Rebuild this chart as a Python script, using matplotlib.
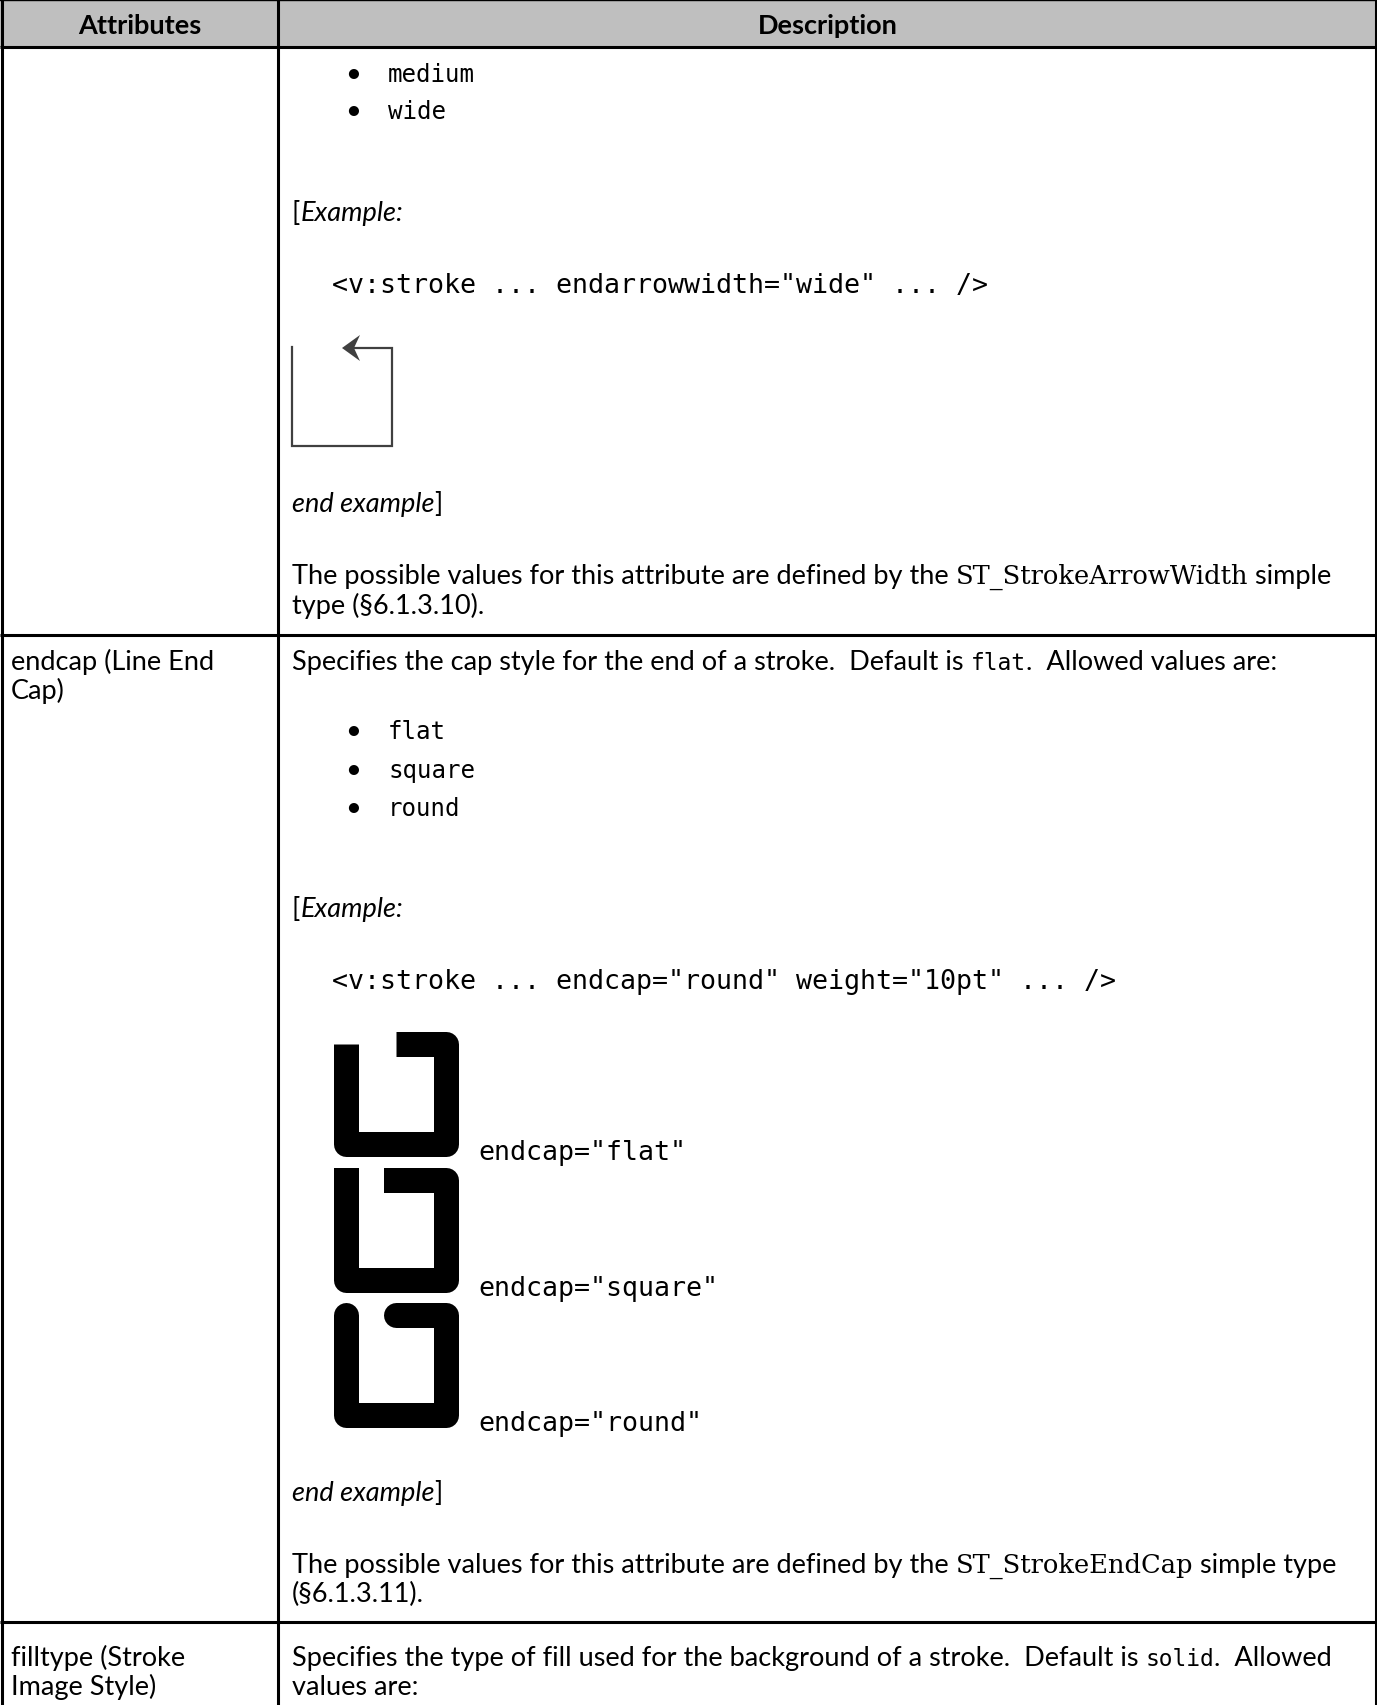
import matplotlib
matplotlib.use("Agg")
import matplotlib.pyplot as plt
from matplotlib.font_manager import FontProperties
from matplotlib.path import Path
from matplotlib.patches import PathPatch, Polygon, Rectangle

W, H = 1377, 1706

# table content
header = ["Attributes", "Description"]
arrow_widths = ["medium", "wide"]
cap_values = ["flat", "square", "round"]
cap_styles = {"flat": "butt", "square": "projecting", "round": "round"}
code_arrow = '<v:stroke ... endarrowwidth="wide" ... />'
code_cap = '<v:stroke ... endcap="round" weight="10pt" ... />'
attr_rows = [("endcap (Line End", "Cap)"), ("filltype (Stroke", "Image Style)")]

SANS = "Lato"
BODY = 19.5
STYLES = {
    "sans": dict(family=SANS, size=BODY),
    "ital": dict(family=SANS, size=BODY, style="italic"),
    "bold": dict(family=SANS, size=BODY, weight="bold"),
    "inl": dict(family="DejaVu Sans Mono", size=16.5),
    "mono": dict(family="DejaVu Sans Mono", size=17.4),
    "code": dict(family="DejaVu Sans Mono", size=19.2),
    "serif": dict(family="DejaVu Serif", size=18.5),
}

fig = plt.figure(figsize=(W / 100, H / 100), dpi=100)
ax = fig.add_axes([0, 0, 1, 1])
ax.set_xlim(0, W)
ax.set_ylim(H, 0)
ax.axis("off")
renderer = fig.canvas.get_renderer()


def text_width(txt, kind):
    prop = FontProperties(**STYLES[kind])
    w1 = renderer.get_text_width_height_descent(txt + "l", prop, False)[0]
    w0 = renderer.get_text_width_height_descent("l", prop, False)[0]
    return w1 - w0


def runs(x, y, parts):
    for txt, kind in parts:
        ax.text(x, y, txt, va="baseline", ha="left", color="black", **STYLES[kind])
        x += text_width(txt, kind)


def cap_shape(x0, y0, style):
    verts = [(13, 12.5), (13, 112.5), (113, 112.5), (113, 12.5), (62.5, 12.5)]
    verts = [(x0 + vx, y0 + vy) for vx, vy in verts]
    ax.add_patch(PathPatch(Path(verts), fill=False, edgecolor="black", lw=18,
                           joinstyle="round", capstyle=cap_styles[style]))


# header and grid
ax.add_patch(Rectangle((0, 0), W, 48, color="#BFBFBF", lw=0))
ax.text(140, 26, header[0], ha="center", va="center", **STYLES["bold"])
ax.text(828, 26, header[1], ha="center", va="center", **STYLES["bold"])
lw = 2.2
for yy in [48, 636, 1623]:
    ax.plot([0, W], [yy, yy], color="black", lw=lw, solid_capstyle="butt")
ax.plot([0, W], [0.5, 0.5], color="black", lw=1)
for xx in [1.5, 278, W - 1.5]:
    ax.plot([xx, xx], [0, H], color="black", lw=lw, solid_capstyle="butt")

TX = 292
BX, LX = 345, 388

# row 1: tail of endarrowwidth
for yy, val in zip([82, 119], arrow_widths):
    ax.text(BX, yy, "\u2022", va="baseline", ha="left", **STYLES["sans"])
    runs(LX, yy, [(val, "mono")])
runs(TX, 221, [("[", "sans"), ("Example:", "ital")])
runs(332, 293, [(code_arrow, "code")])
grey = "#404040"
ax.plot([292, 292, 392, 392, 355], [348, 447, 447, 349, 349], color=grey, lw=1.6,
        solid_joinstyle="miter")
ax.add_patch(Polygon([(342, 349), (360, 336), (354, 349), (360, 362)], closed=True,
                     color=grey, lw=0))
runs(TX, 512, [("end example", "ital"), ("]", "sans")])
runs(TX, 584, [("The possible values for this attribute are defined by the ", "sans"),
               ("ST_StrokeArrowWidth", "serif"), (" simple", "sans")])
runs(TX, 614, [("type (\u00a76.1.3.10).", "sans")])

# row 2: endcap
runs(11, 670, [(attr_rows[0][0], "sans")])
runs(11, 699, [(attr_rows[0][1], "sans")])
runs(TX, 670, [("Specifies the cap style for the end of a stroke.  Default is ", "sans"),
               ("flat", "inl"), (".  Allowed values are:", "sans")])
for yy, val in zip([739, 778, 816], cap_values):
    ax.text(BX, yy, "\u2022", va="baseline", ha="left", **STYLES["sans"])
    runs(LX, yy, [(val, "mono")])
runs(TX, 917, [("[", "sans"), ("Example:", "ital")])
runs(332, 989, [(code_cap, "code")])
for top, lab_y, val in zip([1032, 1168, 1303], [1160, 1296, 1431], cap_values):
    cap_shape(333, top, val)
    runs(478, lab_y, [('endcap="%s"' % val, "code")])
runs(TX, 1501, [("end example", "ital"), ("]", "sans")])
runs(TX, 1573, [("The possible values for this attribute are defined by the ", "sans"),
                ("ST_StrokeEndCap", "serif"), (" simple type", "sans")])
runs(TX, 1602, [("(\u00a76.1.3.11).", "sans")])

# row 3: filltype
runs(11, 1666, [(attr_rows[1][0], "sans")])
runs(11, 1695, [(attr_rows[1][1], "sans")])
runs(TX, 1666, [("Specifies the type of fill used for the background of a stroke.  Default is ", "sans"),
                ("solid", "inl"), (".  Allowed", "sans")])
runs(TX, 1695, [("values are:", "sans")])

fig.savefig("out.png", dpi=100, facecolor="white")
